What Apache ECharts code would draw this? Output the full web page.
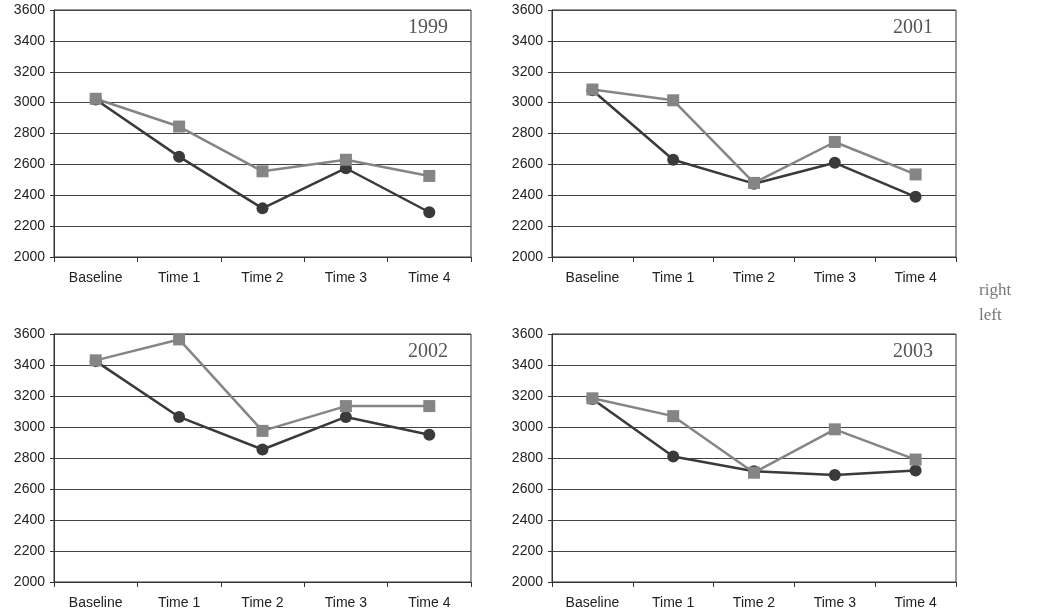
<!DOCTYPE html>
<html>
<head>
<meta charset="utf-8">
<script src="https://cdn.jsdelivr.net/npm/echarts@6/dist/echarts.min.js"></script>
<style>
  html, body { margin: 0; padding: 0; background: #fff; }
  #main { width: 1039px; height: 613px; }
</style>
</head>
<body>
<div id="main"></div>
<script>
// categories and values
const categories = ["Baseline", "Time 1", "Time 2", "Time 3", "Time 4"];
const years = ["1999", "2001", "2002", "2003"];

const right1999 = [3025, 2845, 2555, 2630, 2525];
const left1999 = [3020, 2650, 2315, 2575, 2290];
const right2001 = [3085, 3015, 2480, 2745, 2535];
const left2001 = [3080, 2630, 2475, 2610, 2390];
const right2002 = [3430, 3565, 2975, 3135, 3135];
const left2002 = [3425, 3065, 2855, 3065, 2950];
const right2003 = [3185, 3070, 2705, 2985, 2790];
const left2003 = [3180, 2810, 2715, 2690, 2720];

const rightData = [right1999, right2001, right2002, right2003];
const leftData = [left1999, left2001, left2002, left2003];

// panel boxes [left, top, width, height]
const boxes = [
  [54, 10, 417, 247],
  [552, 10, 404, 247],
  [54, 334, 417, 248],
  [552, 334, 404, 248]
];

const chart = echarts.init(document.getElementById("main"));

let grids = [], xAxes = [], yAxes = [], series = [], titles = [];
boxes.forEach((b, i) => {
  grids.push({
    left: b[0], top: b[1], width: b[2], height: b[3],
    show: true, borderColor: "#333", borderWidth: 1, backgroundColor: "#fff"
  });
  xAxes.push({
    type: "category", gridIndex: i, data: categories, boundaryGap: true,
    axisLine: { lineStyle: { color: "#333", width: 1 } },
    axisTick: { show: true, length: 5, lineStyle: { color: "#333" } },
    axisLabel: { color: "#222", fontFamily: "Liberation Sans", fontSize: 14, margin: 14 }
  });
  yAxes.push({
    type: "value", gridIndex: i, min: 2000, max: 3600, interval: 200,
    axisLine: { show: true, lineStyle: { color: "#333", width: 1 } },
    axisTick: { show: true, length: 4, lineStyle: { color: "#333" } },
    axisLabel: {
      color: "#222", fontFamily: "Liberation Sans", fontSize: 14, margin: 9,
      formatter: (v) => String(v)
    },
    splitLine: { show: true, lineStyle: { color: "#444", width: 1 } }
  });
  series.push({
    name: "left", type: "line", xAxisIndex: i, yAxisIndex: i,
    data: leftData[i], symbol: "circle", symbolSize: 12,
    lineStyle: { color: "#3a3a3a", width: 2.5 },
    itemStyle: { color: "#3a3a3a" }
  });
  series.push({
    name: "right", type: "line", xAxisIndex: i, yAxisIndex: i,
    data: rightData[i], symbol: "rect", symbolSize: 12,
    lineStyle: { color: "#858585", width: 2.5 },
    itemStyle: { color: "#858585" }
  });
  titles.push({
    text: years[i],
    right: 1039 - (b[0] + b[2]) + 23,
    top: b[1] + 8,
    padding: 0,
    textStyle: { fontFamily: "Liberation Serif", fontWeight: "normal", fontSize: 20, color: "#555" }
  });
});

chart.setOption({
  animation: false,
  title: titles,
  legend: {
    data: ["right", "left"],
    orient: "vertical",
    left: 968, top: 277,
    itemWidth: 0, itemHeight: 0, itemGap: 8,
    textStyle: { fontFamily: "Liberation Serif", fontSize: 17, color: "#777" }
  },
  grid: grids,
  xAxis: xAxes,
  yAxis: yAxes,
  series: series
});
</script>
</body>
</html>
